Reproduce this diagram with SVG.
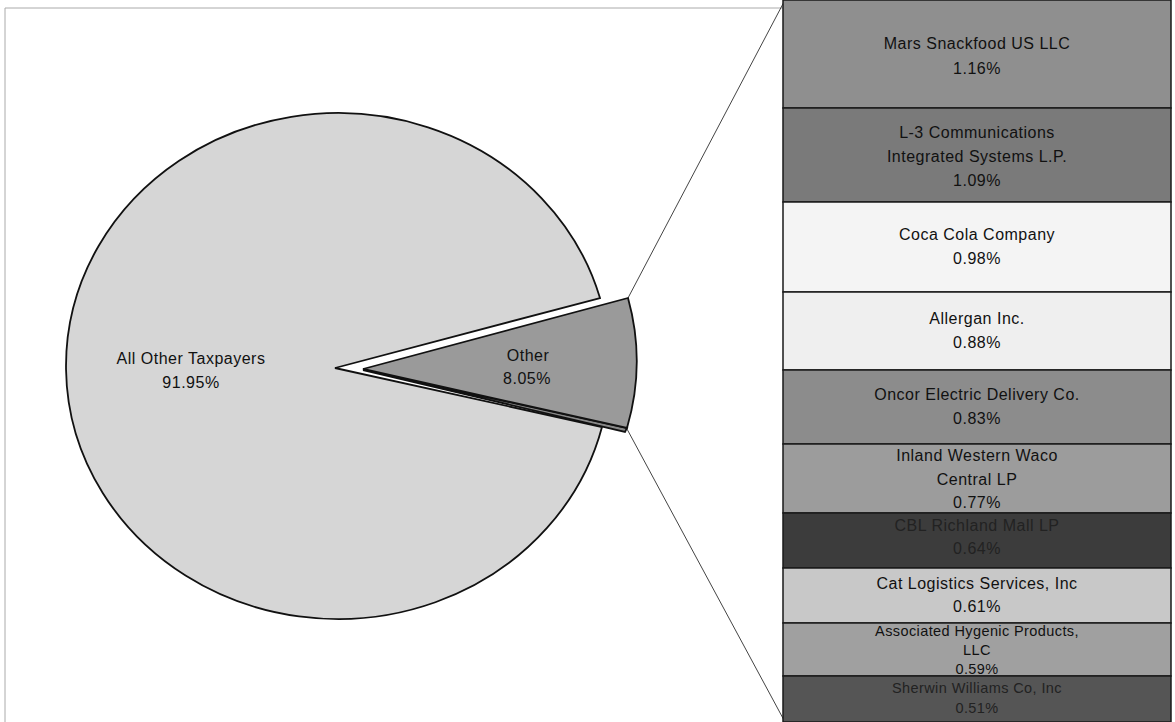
<svg xmlns="http://www.w3.org/2000/svg" width="1175" height="722" viewBox="0 0 1175 722">
<style>
text{font-family:"Liberation Sans",Arial,sans-serif;font-size:16px;fill:#111;text-anchor:middle;letter-spacing:0.5px}
.sm{font-size:14.5px;letter-spacing:0.4px}
.box{stroke:#1a1a1a;stroke-width:1.5}
.pie{stroke:#111;stroke-width:1.8}
.conn{stroke:#444;stroke-width:1;fill:none}
</style>
<rect x="0" y="0" width="1175" height="722" fill="#fff"/>
<path d="M5,722 L5,8 L783,8" fill="none" stroke="#aaa" stroke-width="1"/>
<g id="connectors">
<line class="conn" x1="628" y1="298" x2="785" y2="0"/>
<line class="conn" x1="627" y1="429" x2="785" y2="722"/>
</g>
<g id="pie-main">
<path class="pie" d="M335,368 L600,298 A272,253 0 1,0 602,427 Z" fill="#d6d6d6"/>
<text x="191" y="364">All Other Taxpayers</text>
<text x="191" y="388">91.95%</text>
</g>
<g id="pie-other">
<path class="pie" d="M363,370 L625,432 L627,428 Z" fill="#888"/>
<path class="pie" d="M363,369 L628,298 A272,253 0 0,1 627,428 Z" fill="#9a9a9a"/>
<text x="528" y="361">Other</text>
<text x="527" y="384">8.05%</text>
</g>
<g id="n-mars">
<rect class="box" x="783" y="0" width="388" height="108" fill="#8f8f8f"/>
<text x="977" y="49">Mars Snackfood US LLC</text>
<text x="977" y="74">1.16%</text>
</g>
<g id="n-l3">
<rect class="box" x="783" y="108" width="388" height="94" fill="#7a7a7a"/>
<text x="977" y="138">L-3 Communications</text>
<text x="977" y="162">Integrated Systems L.P.</text>
<text x="977" y="186">1.09%</text>
</g>
<g id="n-coca">
<rect class="box" x="783" y="202" width="388" height="90" fill="#f4f4f4"/>
<text x="977" y="240">Coca Cola Company</text>
<text x="977" y="264">0.98%</text>
</g>
<g id="n-allergan">
<rect class="box" x="783" y="292" width="388" height="78" fill="#efefef"/>
<text x="977" y="324">Allergan Inc.</text>
<text x="977" y="348">0.88%</text>
</g>
<g id="n-oncor">
<rect class="box" x="783" y="370" width="388" height="74" fill="#8c8c8c"/>
<text x="977" y="400">Oncor Electric Delivery Co.</text>
<text x="977" y="424">0.83%</text>
</g>
<g id="n-inland">
<rect class="box" x="783" y="444" width="388" height="69" fill="#9c9c9c"/>
<text x="977" y="461">Inland Western Waco</text>
<text x="977" y="485">Central LP</text>
<text x="977" y="508">0.77%</text>
</g>
<g id="n-cbl">
<rect class="box" x="783" y="513" width="388" height="55" fill="#3c3c3c"/>
<text x="977" y="531" style="fill:#222">CBL Richland Mall LP</text>
<text x="977" y="554" style="fill:#222">0.64%</text>
</g>
<g id="n-cat">
<rect class="box" x="783" y="568" width="388" height="55" fill="#c8c8c8"/>
<text x="977" y="589">Cat Logistics Services, Inc</text>
<text x="977" y="612">0.61%</text>
</g>
<g id="n-assoc">
<rect class="box" x="783" y="623" width="388" height="53" fill="#a0a0a0"/>
<text class="sm" x="977" y="636">Associated Hygenic Products,</text>
<text class="sm" x="977" y="655">LLC</text>
<text class="sm" x="977" y="674">0.59%</text>
</g>
<g id="n-sherwin">
<rect class="box" x="783" y="676" width="388" height="46" fill="#555"/>
<text class="sm" x="977" y="693" style="fill:#222">Sherwin Williams Co, Inc</text>
<text class="sm" x="977" y="713" style="fill:#222">0.51%</text>
</g>
</svg>
